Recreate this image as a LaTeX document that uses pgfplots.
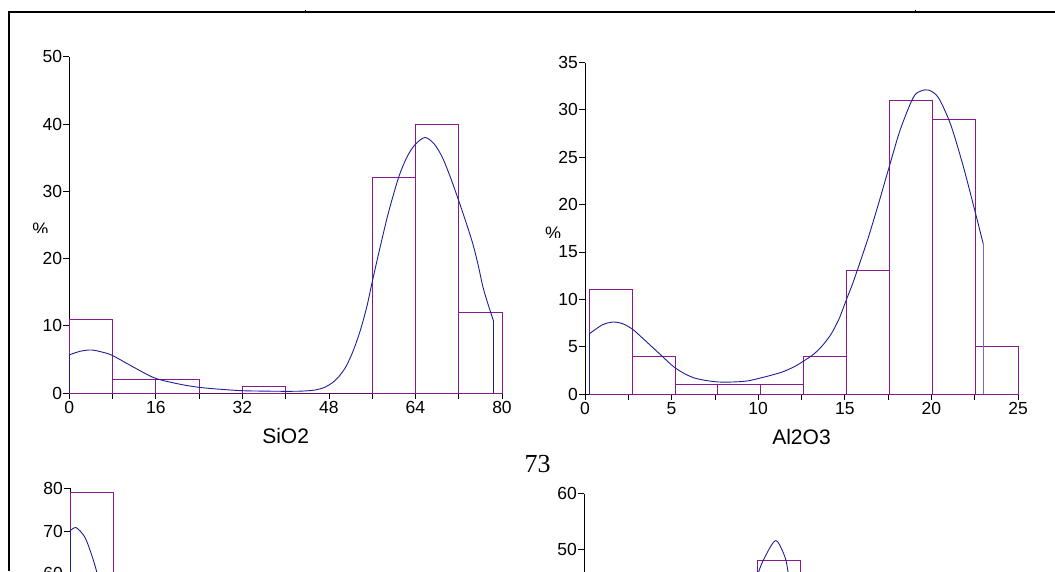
\documentclass[border=0pt]{standalone}
\usepackage{fontspec}
\setmainfont{Liberation Sans}
\newfontfamily\pagefont{Liberation Serif}
\usepackage{pgfplots}
\pgfplotsset{compat=1.18}

\definecolor{barc}{RGB}{135,25,140}
\definecolor{fitc}{RGB}{30,30,150}
\definecolor{dropc}{RGB}{110,110,205}

\pgfplotsset{histo/.style={
    scale only axis, anchor=south west, clip=false,
    axis lines=left, axis line style={-, line width=0.8pt},
    tick align=outside, major tick length=6pt, minor tick length=6pt,
    tick style={black, line width=0.8pt},
    tick label style={font=\fontsize{17.5}{20}\selectfont},
    /pgf/number format/assume math mode=true,
    yticklabel style={inner xsep=1pt},
    xticklabel style={inner ysep=2pt},
    xlabel style={font=\fontsize{21}{24}\selectfont,
      at={(axis description cs:0.5,0)}, anchor=center, yshift=-43pt},
  },
  bars/.style={ybar interval, draw=barc, fill=none, line width=0.9pt},
  fit/.style={fitc, line width=0.9pt, mark=none},
}

\begin{document}
\begin{tikzpicture}
\path[use as bounding box] (0pt,0pt) rectangle (1055pt,571pt);
\clip (0pt,0pt) rectangle (1055pt,571pt);

% page frame
\draw[line width=2pt] (9pt,0pt) -- (9pt,559pt) -- (1055pt,559pt);
\draw[line width=0.8pt] (305pt,558pt) -- (305pt,560.5pt) (915pt,558pt) -- (915pt,560.5pt);

% SiO2
\begin{axis}[histo, at={(69.3pt,178pt)}, width=432.7pt, height=336.2pt,
    xmin=0, xmax=80, ymin=0, ymax=50,
    xtick={0,16,...,80}, minor xtick={8,24,...,72}, ytick={0,10,...,50},
    xlabel={SiO2}]
  \addplot[bars] coordinates {(0,11)(8,2)(16,2)(24,0)(32,1)(40,0)(48,0)(56,32)(64,40)(72,12)(80,0)};
  \addplot[fit] coordinates {(0,0)(0,5.67)};
  \addplot[fit, smooth] coordinates {(0,5.67)(2,6.2)(4.06,6.4)(6,6.1)(8,5.57)(12.2,3.7)(15.9,2.2)
    (20.3,1.33)(24,0.84)(28,0.55)(32,0.34)(36,0.28)(40,0.25)(43,0.28)(45.5,0.45)(47.2,0.84)
    (48.6,1.5)(49.9,2.5)(51.2,4)(52.5,6.3)(53.8,9.3)(55,12.8)(56,16.5)(57.5,21.8)(59,26.8)
    (60.9,32.1)(62.5,35.2)(64,37)(65.8,38)(67.5,37)(69,35)(70.5,32)(72,28.6)(73.3,25.5)
    (74.6,22.2)(75.6,19)(76.5,15.7)(77.5,13)(78.4,10.8)};
  \addplot[fit] coordinates {(78.4,10.8)(78.4,0)};
\end{axis}

% Al2O3
\begin{axis}[histo, at={(585pt,177pt)}, width=433pt, height=331.5pt,
    xmin=0, xmax=25, ymin=0, ymax=35,
    xtick={0,5,...,25}, minor xtick={2.5,7.5,...,22.5}, ytick={0,5,...,35},
    xlabel={Al2O3}]
  \addplot[bars] coordinates {(0.25,11)(2.725,4)(5.2,1)(7.675,1)(10.15,1)(12.625,4)(15.1,13)(17.575,31)(20.05,29)(22.525,5)(25,0)};
  \addplot[fit, line width=1.3pt] coordinates {(0.25,0)(0.25,6.35)};
  \addplot[fit, smooth] coordinates {(0.25,6.35)(1,7.3)(1.64,7.6)(2.2,7.4)(2.77,6.8)(3.5,5.6)
    (4.33,4.2)(5.25,2.7)(6.3,1.7)(7.7,1.27)(9.2,1.34)(10.16,1.7)(11.35,2.3)(12.1,2.9)(12.64,3.5)
    (13.2,4.2)(13.7,5.1)(14.2,6.3)(14.66,7.9)(15.1,10)(15.5,11.9)(16.3,16.2)(16.9,19.8)(17.55,23.9)
    (18.2,27.9)(18.95,31.3)(19.4,32)(19.85,32.08)(20.4,31.3)(21.1,28.5)(21.8,24.3)(22.46,19.7)(23,15.8)};
  \addplot[dropc, line width=1.5pt] coordinates {(23,15.8)(23,0)};
\end{axis}

% lower left (cut by the page edge)
\begin{axis}[histo, at={(70pt,-258.2pt)}, width=433pt, height=340.8pt,
    xmin=0, xmax=10, ymin=0, ymax=80, ytick={60,70,80}, xtick=\empty]
  \addplot[bars] coordinates {(0,79)(1,0)};
  \addplot[fit] coordinates {(0,0)(0,70)};
  \addplot[fit, smooth] coordinates {(0,70)(0.14,70.8)(0.34,68.6)(0.49,64.7)(0.61,60.7)(0.75,55)};
\end{axis}

% lower right (cut by the page edge)
\begin{axis}[histo, at={(584pt,-259.1pt)}, width=433pt, height=336.6pt,
    xmin=0, xmax=10, ymin=0, ymax=60, ytick={50,60}, xtick=\empty]
  \addplot[bars] coordinates {(4,48)(5,0)};
  \addplot[fit, smooth] coordinates {(3.9,41)(4.02,45.7)(4.18,48.7)(4.43,51.6)(4.64,48.7)(4.72,45.7)(4.85,40)};
\end{axis}

% y labels, cut at the bottom as in the scan
\begin{scope}
  \clip (20pt,338pt) rectangle (70pt,360pt);
  \node[inner sep=0, anchor=north, font=\fontsize{18}{20}\selectfont] at (40.5pt,348pt) {\%};
\end{scope}
\begin{scope}
  \clip (530pt,333pt) rectangle (580pt,360pt);
  \node[inner sep=0, anchor=north, font=\fontsize{18}{20}\selectfont] at (553pt,344pt) {\%};
\end{scope}

% page number
\node[font=\pagefont\fontsize{26}{28}\selectfont, inner sep=0] at (537.5pt,107pt) {73};
\end{tikzpicture}
\end{document}
